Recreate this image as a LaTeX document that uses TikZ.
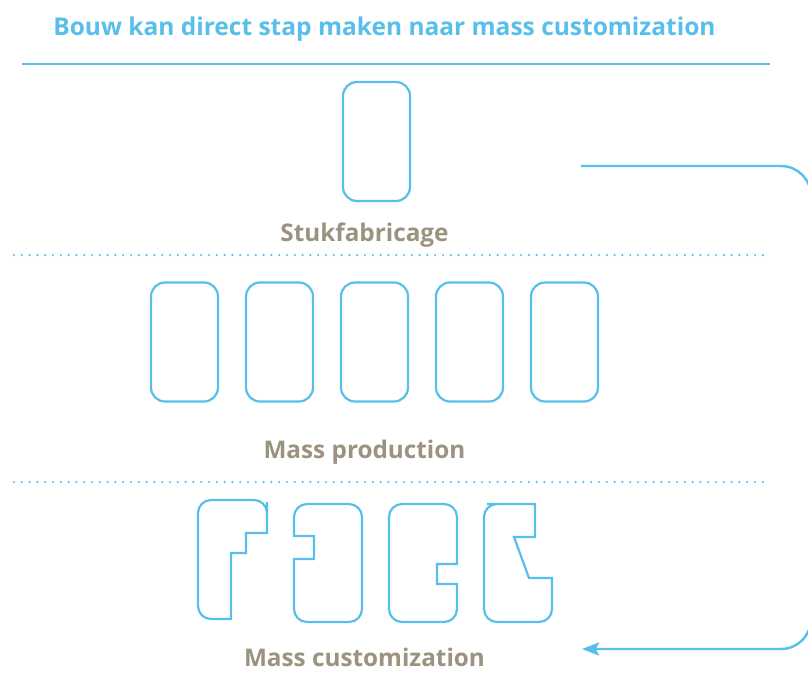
\documentclass[tikz,border=0pt]{standalone}
\usepackage{fontspec}
\setmainfont{Open Sans}
\usetikzlibrary{arrows.meta}
\definecolor{skyb}{RGB}{88,190,234}
\definecolor{taupe}{RGB}{155,146,128}
\begin{document}
\begin{tikzpicture}[x=1pt,y=-1pt,
  box/.style={draw=skyb,line width=2.2pt,rounded corners=14pt,minimum width=67pt,minimum height=119pt,inner sep=0pt,outer sep=0pt},
  shp/.style={draw=skyb,line width=2.2pt},
  lbl/.style={text=taupe,font=\bfseries\fontsize{24.3}{28}\selectfont,inner sep=0pt,anchor=base},
  ttl/.style={text=skyb,font=\bfseries\fontsize{24.5}{28}\selectfont,inner sep=0pt,anchor=base},
  sep/.style={draw=skyb,line width=1.2pt},
  dotsep/.style={draw=skyb,line width=2.4pt,line cap=round,dash pattern=on 0pt off 7.8pt},
  conn/.style={draw=skyb,line width=2.4pt,rounded corners=30pt,-{Stealth[length=17pt,width=13pt,inset=3pt]}}]
\useasboundingbox (0,0) rectangle (808,686);
% title and separators
\node[ttl] (title) at (384.5,35) {Bouw kan direct stap maken naar mass customization};
\coordinate (l1a) at (22,64); \coordinate (l1b) at (770,64);
\draw[sep] (l1a) -- (l1b);
\coordinate (d1a) at (14,255); \coordinate (d1b) at (766,255);
\draw[dotsep] (d1a) -- (d1b);
\coordinate (d2a) at (14,482); \coordinate (d2b) at (766,482);
\draw[dotsep] (d2a) -- (d2b);
% stukfabricage
\node[box] (s1) at (376.5,141.5) {};
\node[lbl] (lstuk) at (364.5,241) {Stukfabricage};
% mass production
\node[box] (m1) at (184.5,342) {};
\node[box] (m2) at (279.5,342) {};
\node[box] (m3) at (374.5,342) {};
\node[box] (m4) at (469.5,342) {};
\node[box] (m5) at (564.5,342) {};
\node[lbl] (lmass) at (364.5,458) {Mass production};
% mass customization shapes
\draw[shp] (198,560) [rounded corners=13pt] -- (198,500) -- (267,500) -- (267,515) [sharp corners] -- (267,533) -- (246,533) -- (246,553) -- (231,553) -- (231,619) -- (215,619) [rounded corners=13pt] -- (198,619) -- cycle;
\draw[shp] (330,504) [rounded corners=13pt] -- (362,504) -- (362,622) -- (294,622) -- (294,575) [sharp corners] -- (294,559) -- (314,559) -- (314,536) -- (294,536) -- (294,524) [rounded corners=13pt] -- (294,504) -- cycle;
\draw[shp] (420,504) [rounded corners=13pt] -- (457,504) -- (457,545) [sharp corners] -- (457,564) -- (437,564) -- (437,584) -- (457,584) -- (457,600) [rounded corners=13pt] -- (457,622) -- (389,622) -- (389,504) -- cycle;
\draw[shp] (510,504) [sharp corners] -- (535,504) -- (535,537) -- (514,537) -- (529,578) -- (552,578) -- (552,595) [rounded corners=13pt] -- (552,622) -- (484,622) -- (484,504) -- (500,504) [sharp corners] -- cycle;
\node[lbl] (lcust) at (364.5,666) {Mass customization};
% arrow
\coordinate (arrS) at (581,166);
\coordinate (arrE) at (582,649);
\draw[conn] (arrS) -- (811,166) -- (811,649) -- (arrE);
\end{tikzpicture}
\end{document}
